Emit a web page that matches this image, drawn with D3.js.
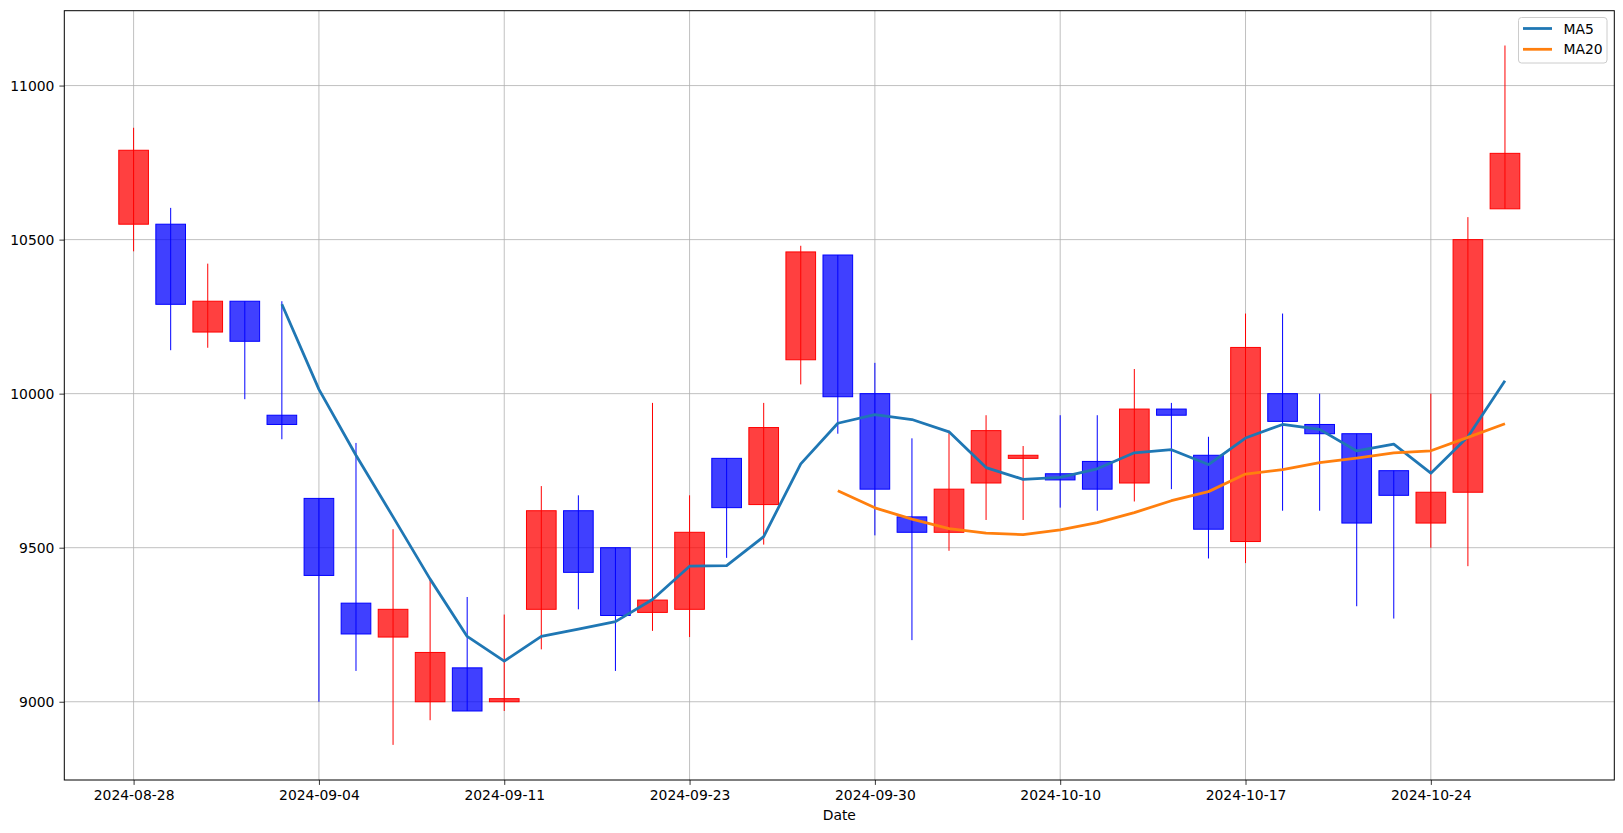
<!DOCTYPE html>
<html>
<head>
<meta charset="utf-8">
<script src="https://cdn.jsdelivr.net/npm/d3@7"></script>
<style>
html, body { margin: 0; padding: 0; background: #fff; }
svg { display: block; font-family: "DejaVu Sans", sans-serif; }
</style>
</head>
<body>
<svg id="chart" width="1623" height="833"></svg>
<script>
const dates = ["2024-08-28","2024-08-29","2024-08-30","2024-09-02","2024-09-03","2024-09-04","2024-09-05","2024-09-06","2024-09-09","2024-09-10",
  "2024-09-11","2024-09-12","2024-09-13","2024-09-19","2024-09-20","2024-09-23","2024-09-24","2024-09-25","2024-09-26","2024-09-27",
  "2024-09-30","2024-10-02","2024-10-04","2024-10-07","2024-10-08","2024-10-10","2024-10-11","2024-10-14","2024-10-15","2024-10-16",
  "2024-10-17","2024-10-18","2024-10-21","2024-10-22","2024-10-23","2024-10-24","2024-10-25","2024-10-28"];
const openV  = [10550,10550,10200,10300,9930,9660,9320,9210,9000,9110,9000,9300,9620,9500,9290,9300,9790,9640,10110,10450,10000,9600,9550,9710,9790,9740,9780,9710,9950,9800,9520,10000,9900,9870,9750,9580,9680,10600];
const highV  = [10863,10603,10422,10300,10300,9660,9840,9560,9395,9340,9283,9700,9670,9500,9970,9670,9790,9970,10480,10450,10100,9855,9880,9930,9830,9930,9930,10080,9970,9860,10260,10260,10000,9870,9750,10000,10573,11130];
const lowV   = [10462,10141,10149,9982,9852,9000,9100,8860,8940,8970,8970,9170,9300,9100,9230,9210,9467,9510,10030,9870,9540,9200,9490,9590,9590,9630,9620,9650,9690,9465,9450,9620,9620,9310,9270,9500,9440,10600];
const closeV = [10790,10290,10300,10170,9900,9410,9220,9300,9160,8970,9010,9620,9420,9280,9330,9550,9630,9890,10460,9990,9690,9550,9690,9880,9800,9720,9690,9950,9930,9560,10150,9910,9870,9580,9670,9680,10500,10780];
// moving averages (null = not drawn)
const ma5  = [null,null,null,null,10290,10014,9800,9600,9398,9212,9132,9212,9236,9260,9332,9440,9442,9536,9772,9904,9932,9916,9876,9760,9722,9728,9756,9808,9818,9770,9856,9900,9884,9814,9836,9742,9860,10042];
const ma20 = [null,null,null,null,null,null,null,null,null,null,null,null,null,null,null,null,null,null,null,9684.5,9629.5,9592.5,9562,9547.5,9542.5,9558,9581.5,9614,9652.5,9682,9739,9753.5,9776,9791,9808,9814.5,9858,9902.5];
const tickIdx = [0,5,10,15,20,25,30,35];
const yTicks = [9000,9500,10000,10500,11000];
const seriesNames = ["MA5","MA20"];

const svg = d3.select("#chart");
const L = 64.3, R = 1614.3, T = 10.7, B = 780;
const x = d3.scaleLinear().domain([-1.87, 39.95]).range([L, R]);
const y = d3.scaleLinear().domain([8746, 11243]).range([B, T]);

const g = svg.append("g");
// grid
g.append("g").selectAll("line").data(yTicks).join("line")
  .attr("x1", L).attr("x2", R).attr("y1", d => y(d)).attr("y2", d => y(d))
  .attr("stroke", "#b0b0b0").attr("stroke-width", 0.8);
g.append("g").selectAll("line").data(tickIdx).join("line")
  .attr("y1", T).attr("y2", B).attr("x1", d => x(d)).attr("x2", d => x(d))
  .attr("stroke", "#b0b0b0").attr("stroke-width", 0.8);

const data = dates.map((d, i) => ({i, o: openV[i], h: highV[i], l: lowV[i], c: closeV[i]}));
const col = d => d.c >= d.o ? "red" : "blue";
const bw = x(0.8) - x(0);
// wicks
g.append("g").selectAll("line").data(data).join("line")
  .attr("x1", d => x(d.i)).attr("x2", d => x(d.i))
  .attr("y1", d => y(d.h)).attr("y2", d => y(d.l))
  .attr("stroke", col).attr("stroke-width", 1);
// bodies
g.append("g").selectAll("rect").data(data).join("rect")
  .attr("x", d => x(d.i) - bw / 2).attr("width", bw)
  .attr("y", d => y(Math.max(d.o, d.c)))
  .attr("height", d => Math.max(0.5, y(Math.min(d.o, d.c)) - y(Math.max(d.o, d.c))))
  .attr("fill", col).attr("fill-opacity", 0.75)
  .attr("stroke", col).attr("stroke-width", 1);

// MA lines
const line = d3.line().defined(d => d.v != null).x(d => x(d.i)).y(d => y(d.v));
const colors = ["#1f77b4", "#ff7f0e"];
[ma5, ma20].forEach((arr, k) => {
  g.append("path").datum(arr.map((v, i) => ({i, v})))
    .attr("d", line).attr("fill", "none")
    .attr("stroke", colors[k]).attr("stroke-width", 2.78).attr("stroke-linejoin", "round");
});

// frame
svg.append("rect").attr("x", L).attr("y", T).attr("width", R - L).attr("height", B - T)
  .attr("fill", "none").attr("stroke", "#000").attr("stroke-width", 1);

// axes
const xAxis = d3.axisBottom(x).tickValues(tickIdx).tickFormat(i => dates[i]).tickSizeOuter(0).tickSize(4.9).tickPadding(5);
const ax = svg.append("g").attr("transform", `translate(0,${B})`).call(xAxis);
ax.select(".domain").remove();
const yAxis = d3.axisLeft(y).tickValues(yTicks).tickFormat(d3.format("d")).tickSizeOuter(0).tickSize(4.9).tickPadding(5);
const ay = svg.append("g").attr("transform", `translate(${L},0)`).call(yAxis);
ay.select(".domain").remove();
[ax, ay].forEach(a => {
  a.selectAll("text").attr("font-size", 13.9).attr("font-family", "DejaVu Sans").attr("fill", "#000");
  a.selectAll("line").attr("stroke", "#000").attr("stroke-width", 0.8);
});

svg.append("text").attr("x", (L + R) / 2).attr("y", 820).attr("text-anchor", "middle")
  .attr("font-size", 13.9).attr("fill", "#000").text("Date");

// legend
const lg = svg.append("g");
lg.append("rect").attr("x", 1518.5).attr("y", 17.5).attr("width", 88.5).attr("height", 45.5).attr("rx", 3)
  .attr("fill", "#fff").attr("fill-opacity", 0.8).attr("stroke", "#cccccc").attr("stroke-width", 1);
seriesNames.forEach((n, k) => {
  const yy = 28.5 + k * 20.8;
  lg.append("line").attr("x1", 1523).attr("x2", 1552).attr("y1", yy).attr("y2", yy)
    .attr("stroke", colors[k]).attr("stroke-width", 2.78);
  lg.append("text").attr("x", 1563.5).attr("y", yy + 5).attr("font-size", 13.9).attr("fill", "#000").text(n);
});
</script>
</body>
</html>
